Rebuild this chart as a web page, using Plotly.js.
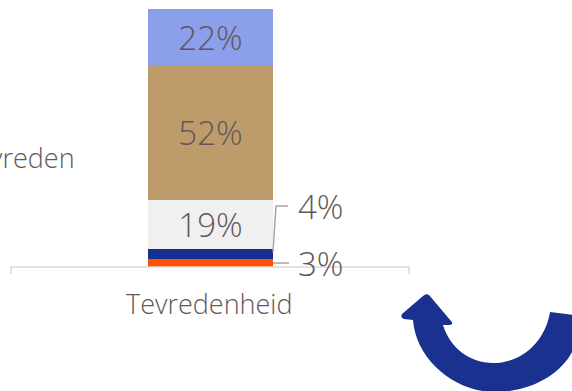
<!DOCTYPE html>
<html><head><meta charset="utf-8">
<script src="https://cdn.plot.ly/plotly-3.0.1.min.js"></script>
<style>html,body{margin:0;padding:0;background:#fff;overflow:hidden}</style>
</head><body><div id="c" style="width:572px;height:391px"></div>
<script>
const categories = ["Tevredenheid"];
const seriesNames = ["Zeer ontevreden","Ontevreden","Neutraal","Tevreden","Zeer tevreden"];
const seriesValues = [3,4,19,52,22];
const seriesColors = ["#FF5000","#172F8E","#F0F0F0","#BE9B6A","#8C9FEB"];
const insideLabels = ["","","19%","52%","22%"];
const FONT = "'Open Sans', Lato, sans-serif";
const TXT = "#635659";
const W=572,H=391,L=12,R=409,T=9,B=267;
const px=x=>((x-L)/(R-L)).toFixed(4), py=y=>((B-y)/(B-T)).toFixed(4);
const P=(x,y)=>px(x)+","+py(y);
const line=(x0,y0,x1,y1,c,w)=>({type:"line",xref:"paper",yref:"paper",x0:px(x0),y0:py(y0),x1:px(x1),y1:py(y1),line:{color:c,width:w},layer:"above"});
const poly=(pts,c,w)=>({type:"path",xref:"paper",yref:"paper",path:"M"+pts.map(p=>P(p[0],p[1])).join(" L"),line:{color:c,width:w},layer:"above"});
const arrowPath="M"+P(413,320)
 +" C"+P(416,360)+" "+P(455,392)+" "+P(495,392)
 +" C"+P(530,392)+" "+P(560,375)+" "+P(572,352)
 +" L"+P(573,315)+" L"+P(550,312)
 +" C"+P(545,342)+" "+P(522,363)+" "+P(493,363)
 +" C"+P(470,363)+" "+P(450,348)+" "+P(443,325)
 +" L"+P(450,325)+" Q"+P(454,324)+" "+P(451,321)
 +" L"+P(429,295)+" Q"+P(426,293)+" "+P(423,296)
 +" L"+P(402,314)+" Q"+P(400,318)+" "+P(404,319)+" Z";
const traces=seriesValues.map((v,i)=>({type:"bar",name:seriesNames[i],x:categories,y:[v],
  marker:{color:seriesColors[i],line:{width:0}},text:[insideLabels[i]],textposition:"inside",insidetextanchor:"middle",
  textangle:0,constraintext:"none",textfont:{family:FONT,size:33,color:TXT,weight:300},hoverinfo:"skip",cliponaxis:false}));
const note=(text,x,y,size,anchor)=>({text,xref:"paper",yref:"paper",x:px(x),y:py(y),xanchor:anchor,yanchor:"middle",showarrow:false,font:{family:FONT,size,color:TXT,weight:300}});
Plotly.newPlot("c",traces,{
  width:W,height:H,showlegend:false,barmode:"stack",bargap:0.685,
  margin:{l:L,r:W-R,t:T,b:H-B,pad:0},paper_bgcolor:"#fff",plot_bgcolor:"#fff",
  xaxis:{type:"category",range:[-0.5,0.5],showline:false,ticks:"",showticklabels:false,showgrid:false,zeroline:false,fixedrange:true},
  yaxis:{range:[0,100],visible:false,fixedrange:true},
  shapes:[
    poly([[11,274],[11,267],[409,267],[409,274]],"#D9D9D9",1.5),
    poly([[273,252],[276,206],[288,206]],"#A6A6A6",1.5),
    line(273,263,289,263,"#A6A6A6",1.5),
    {type:"path",xref:"paper",yref:"paper",path:arrowPath,fillcolor:"#1A3190",line:{width:0},layer:"above"}
  ],
  annotations:[
    note("4%",296,207,33,"left"),
    note("3%",296,263,33,"left"),
    note("Tevredenheid",210,304,27,"center"),
    note("Tevreden",77,158,27,"right")
  ]
},{displayModeBar:false,staticPlot:true});
</script></body></html>
